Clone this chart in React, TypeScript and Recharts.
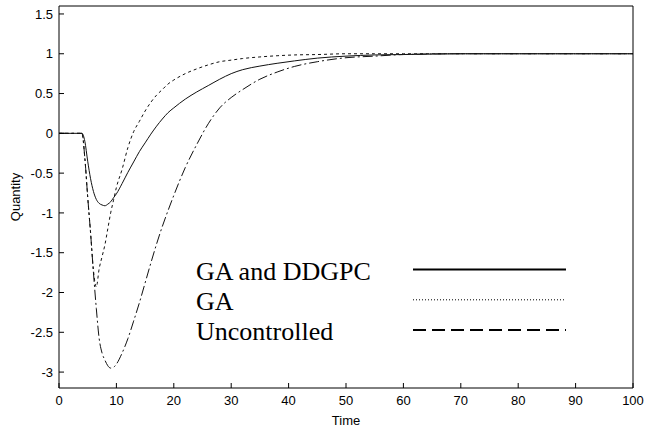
import { LineChart, Line, XAxis, YAxis, Legend } from 'recharts';

// time samples (s)
const TIME = [0, 4, 4.5, 5, 5.5, 6, 6.5, 7, 7.5, 8, 8.5, 9, 9.5, 10, 11, 12, 13, 14, 15, 16, 17, 18, 19, 20, 22, 24, 26, 28, 30, 32, 35, 38, 41, 45, 50, 55, 60, 70, 80, 90, 100];

const GA_DDGPC = [0, 0, -0.1, -0.35, -0.57, -0.73, -0.83, -0.88, -0.9, -0.91, -0.89, -0.86, -0.81, -0.76, -0.63, -0.49, -0.36, -0.23, -0.12, -0.01, 0.09, 0.18, 0.26, 0.32, 0.43, 0.52, 0.6, 0.68, 0.75, 0.8, 0.845, 0.88, 0.91, 0.945, 0.97, 0.985, 0.99, 1, 1, 1, 1];
const GA = [0, 0, -0.31, -0.8, -1.25, -1.72, -1.93, -1.7, -1.55, -1.4, -1.2, -1.0, -0.84, -0.68, -0.45, -0.18, 0.02, 0.15, 0.28, 0.39, 0.48, 0.55, 0.62, 0.67, 0.75, 0.81, 0.86, 0.9, 0.92, 0.94, 0.96, 0.975, 0.985, 0.99, 1, 1, 1, 1, 1, 1, 1];
const UNCONTROLLED = [0, 0, -0.31, -0.8, -1.25, -1.75, -2.2, -2.58, -2.76, -2.85, -2.92, -2.95, -2.94, -2.9, -2.76, -2.58, -2.36, -2.13, -1.88, -1.63, -1.39, -1.17, -0.97, -0.78, -0.43, -0.14, 0.12, 0.32, 0.45, 0.55, 0.68, 0.77, 0.84, 0.9, 0.95, 0.97, 0.99, 1, 1, 1, 1];

const SERIES_NAMES = ['GA and DDGPC', 'GA', 'Uncontrolled'];
const X_TICKS = [0, 10, 20, 30, 40, 50, 60, 70, 80, 90, 100];
const Y_TICKS = [-3, -2.5, -2, -1.5, -1, -0.5, 0, 0.5, 1, 1.5];

const data = TIME.map((t, i) => ({
  t,
  ddgpc: GA_DDGPC[i],
  ga: GA[i],
  unc: UNCONTROLLED[i],
}));

const tickFont = { fill: '#000', fontSize: 13, fontFamily: 'Liberation Sans, Arial, sans-serif' };

// legend styles differ a bit from the plotted ones (matlab-ish)
const LEGEND_DASH = [undefined, '1 2', '13 6'];
const LEGEND_WIDTH = [2, 1, 2];

function LegendBox() {
  // keep series order (recharts sorts payload by name otherwise)
  return (
    <svg width={400} height={100}>
      {SERIES_NAMES.map((name, i) => (
        <g key={name}>
          <text
            x={6}
            y={30 + i * 30}
            fontSize={26}
            fontFamily="Liberation Serif, Times New Roman, serif"
            fill="#000"
          >
            {name}
          </text>
          <line
            x1={223}
            x2={376}
            y1={19.5 + i * 30.3}
            y2={19.5 + i * 30.3}
            stroke="#000"
            strokeWidth={LEGEND_WIDTH[i]}
            strokeDasharray={LEGEND_DASH[i]}
          />
        </g>
      ))}
    </svg>
  );
}

export default function App() {
  return (
    <div style={{ position: 'absolute', left: 0, top: 0, background: '#fff' }}>
      <LineChart width={645} height={430} data={data} margin={{ top: 5, right: 11, bottom: 0, left: 0 }}>
        <XAxis
          dataKey="t"
          type="number"
          domain={[0, 100]}
          ticks={X_TICKS}
          stroke="#000"
          tick={tickFont}
          tickSize={-5}
          tickMargin={13}
          height={42}
          label={{ value: 'Time', position: 'insideBottom', offset: 5, fill: '#000', fontSize: 13, fontFamily: 'Liberation Sans, Arial, sans-serif' }}
        />
        <XAxis
          xAxisId="top"
          orientation="top"
          dataKey="t"
          type="number"
          domain={[0, 100]}
          ticks={X_TICKS}
          stroke="#000"
          tick={false}
          tickSize={-5}
          height={1}
        />
        <YAxis
          type="number"
          domain={[-3.2, 1.6]}
          ticks={Y_TICKS}
          stroke="#000"
          tick={tickFont}
          tickSize={-5}
          tickMargin={11}
          width={59}
          label={{
            content: ({ viewBox }: any) => (
              <text
                transform={`translate(${viewBox.x + 20},${viewBox.y + viewBox.height / 2}) rotate(-90)`}
                textAnchor="middle"
                fontSize={13}
                fontFamily="Liberation Sans, Arial, sans-serif"
                fill="#000"
              >
                Quantity
              </text>
            ),
          }}
        />
        <YAxis
          yAxisId="right"
          orientation="right"
          type="number"
          domain={[-3.2, 1.6]}
          ticks={Y_TICKS}
          stroke="#000"
          tick={false}
          tickSize={-5}
          width={1}
        />
        <Legend
          layout="horizontal"
          verticalAlign="middle"
          align="center"
          wrapperStyle={{ position: 'absolute', left: 190, top: 250, width: 400, height: 100 }}
          content={() => <LegendBox />}
        />
        <Line
          name={SERIES_NAMES[0]}
          dataKey="ddgpc"
          type="monotone"
          stroke="#111"
          strokeWidth={1}
          dot={false}
          activeDot={false}
          isAnimationActive={false}
        />
        <Line
          name={SERIES_NAMES[1]}
          dataKey="ga"
          type="monotone"
          stroke="#111"
          strokeWidth={1}
          strokeDasharray="3 3"
          dot={false}
          activeDot={false}
          isAnimationActive={false}
        />
        <Line
          name={SERIES_NAMES[2]}
          dataKey="unc"
          type="monotone"
          stroke="#111"
          strokeWidth={1}
          strokeDasharray="10 3 2 3"
          dot={false}
          activeDot={false}
          isAnimationActive={false}
        />
      </LineChart>
    </div>
  );
}
